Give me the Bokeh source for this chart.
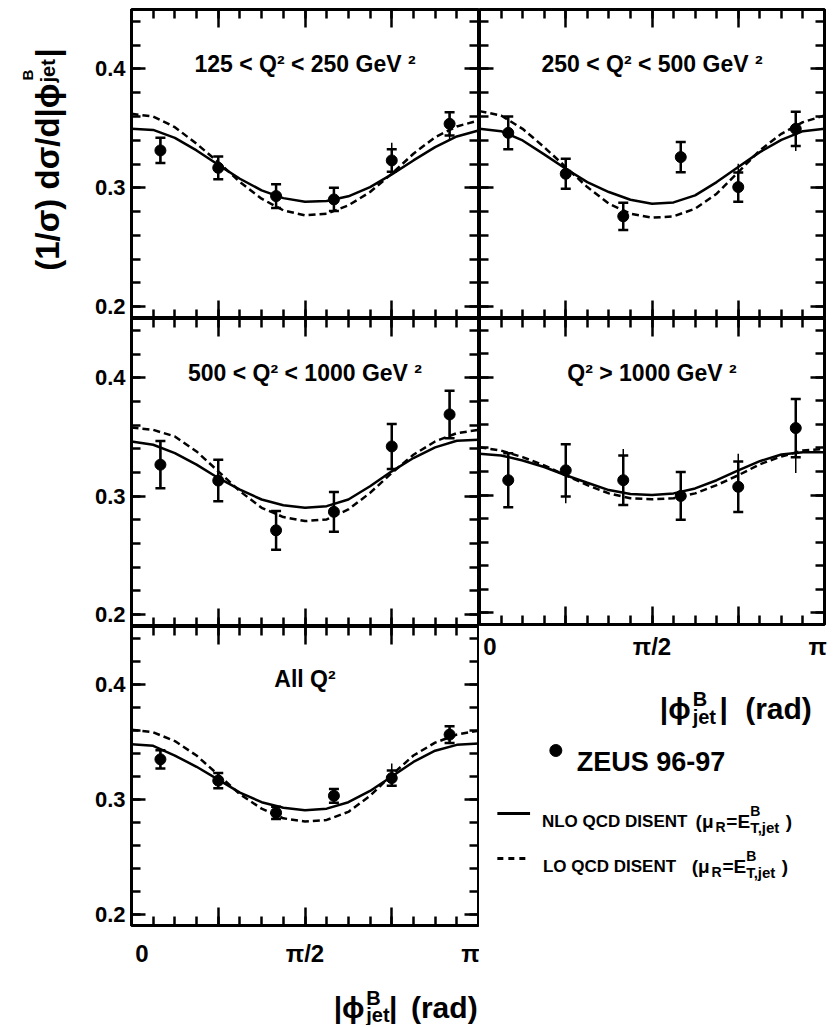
import math
from bokeh.plotting import figure
from bokeh.models import (Range1d, LinearAxis, FixedTicker, CustomJSTickFormatter,
                          Whisker, TeeHead, ColumnDataSource)
from bokeh.layouts import row, column
from bokeh.embed import file_html
from bokeh.resources import INLINE
from bokeh.core.properties import value

PI = math.pi
FONT = "Liberation Sans"

# ---------------- data ----------------
BIN_PHI = [0.2618, 0.7854, 1.3090, 1.8326, 2.3562, 2.8798]
CURVE_PHI = [0.0000, 0.1963, 0.3927, 0.5890, 0.7854, 0.9817, 1.1781, 1.3744, 1.5708,
             1.7671, 1.9635, 2.1598, 2.3562, 2.5525, 2.7489, 2.9452, 3.1416]

TITLES = ["125 < Q² < 250 GeV ²", "250 < Q² < 500 GeV ²", "500 < Q² < 1000 GeV ²",
          "Q² > 1000 GeV ²", "All Q²"]
X_TICK_LABELS = ["0", "π/2", "π"]

# 125 < Q2 < 250
ZEUS_A = [0.3314, 0.3168, 0.2930, 0.2902, 0.3230, 0.3538]
STAT_A = [0.0106, 0.0096, 0.0100, 0.0098, 0.0095, 0.0098]
TOTUP_A = [0.0106, 0.0096, 0.0100, 0.0098, 0.0148, 0.0098]
TOTDN_A = [0.0106, 0.0096, 0.0100, 0.0098, 0.0098, 0.0140]
NLO_A = [0.3496, 0.3487, 0.3420, 0.3314, 0.3193, 0.3076, 0.2978, 0.2913, 0.2882,
         0.2888, 0.2928, 0.3006, 0.3113, 0.3230, 0.3342, 0.3432, 0.3482]
LO_A = [0.3622, 0.3600, 0.3510, 0.3370, 0.3216, 0.3048, 0.2908, 0.2810, 0.2768,
        0.2782, 0.2852, 0.2964, 0.3118, 0.3286, 0.3426, 0.3516, 0.3566]

# 250 < Q2 < 500
ZEUS_B = [0.3462, 0.3118, 0.2760, 0.3258, 0.3006, 0.3496]
STAT_B = [0.0137, 0.0126, 0.0115, 0.0127, 0.0123, 0.0144]
TOTUP_B = [0.0137, 0.0126, 0.0115, 0.0127, 0.0196, 0.0144]
TOTDN_B = [0.0137, 0.0126, 0.0115, 0.0127, 0.0123, 0.0186]
NLO_B = [0.3496, 0.3476, 0.3398, 0.3281, 0.3160, 0.3048, 0.2964, 0.2899, 0.2866,
         0.2877, 0.2936, 0.3048, 0.3174, 0.3300, 0.3403, 0.3476, 0.3496]
LO_B = [0.3645, 0.3608, 0.3496, 0.3342, 0.3174, 0.3006, 0.2866, 0.2782, 0.2748,
        0.2760, 0.2824, 0.2950, 0.3132, 0.3314, 0.3454, 0.3552, 0.3608]

# 500 < Q2 < 1000
ZEUS_C = [0.3266, 0.3132, 0.2712, 0.2868, 0.3420, 0.3690]
STAT_C = [0.0199, 0.0175, 0.0164, 0.0168, 0.0190, 0.0200]
TOTUP_C = [0.0199, 0.0175, 0.0164, 0.0168, 0.0190, 0.0200]
TOTDN_C = [0.0199, 0.0175, 0.0164, 0.0168, 0.0190, 0.0200]
NLO_C = [0.3462, 0.3434, 0.3364, 0.3266, 0.3154, 0.3056, 0.2972, 0.2924, 0.2902,
         0.2916, 0.2972, 0.3084, 0.3210, 0.3322, 0.3412, 0.3468, 0.3476]
LO_C = [0.3580, 0.3560, 0.3504, 0.3378, 0.3210, 0.3042, 0.2902, 0.2824, 0.2790,
        0.2804, 0.2888, 0.3028, 0.3196, 0.3350, 0.3462, 0.3532, 0.3560]

# Q2 > 1000
ZEUS_D = [0.3126, 0.3210, 0.3126, 0.2992, 0.3070, 0.3569]
STAT_D = [0.0230, 0.0222, 0.0210, 0.0203, 0.0214, 0.0247]
TOTUP_D = [0.0230, 0.0222, 0.0266, 0.0203, 0.0280, 0.0247]
TOTDN_D = [0.0230, 0.0280, 0.0210, 0.0203, 0.0214, 0.0381]
NLO_D = [0.3350, 0.3336, 0.3294, 0.3238, 0.3168, 0.3104, 0.3042, 0.3008, 0.3000,
         0.3014, 0.3056, 0.3126, 0.3210, 0.3288, 0.3345, 0.3364, 0.3364]
LO_D = [0.3406, 0.3378, 0.3322, 0.3252, 0.3168, 0.3084, 0.3014, 0.2972, 0.2964,
        0.2972, 0.3014, 0.3084, 0.3168, 0.3261, 0.3328, 0.3378, 0.3392]

# All Q2
ZEUS_E = [0.3345, 0.3160, 0.2880, 0.3028, 0.3182, 0.3560]
STAT_E = [0.0080, 0.0066, 0.0053, 0.0060, 0.0066, 0.0073]
TOTUP_E = [0.0080, 0.0066, 0.0053, 0.0060, 0.0126, 0.0073]
TOTDN_E = [0.0080, 0.0066, 0.0053, 0.0060, 0.0066, 0.0073]
NLO_E = [0.3476, 0.3462, 0.3378, 0.3280, 0.3168, 0.3056, 0.2972, 0.2924, 0.2902,
         0.2916, 0.2972, 0.3070, 0.3196, 0.3322, 0.3420, 0.3471, 0.3482]
LO_E = [0.3602, 0.3580, 0.3504, 0.3378, 0.3210, 0.3042, 0.2916, 0.2832, 0.2804,
        0.2818, 0.2888, 0.3028, 0.3210, 0.3378, 0.3490, 0.3560, 0.3594]

# ---------------- styling helpers ----------------
XMAJ = [0, PI / 4, PI / 2, 3 * PI / 4, PI]
XMIN = [k * PI / 16 for k in range(17)]
YMAJ = [0.2, 0.3, 0.4]
YMIN = [round(0.2 + 0.02 * k, 2) for k in range(13)]
# where the x tick labels sit (slightly inside the frame, like the original)
XLABEL_POS = [0.095, PI / 2, 3.08]

XLABEL_FMT = ("const L = %s; return L[index];" % str(X_TICK_LABELS).replace("'", '"'))


def style_ticks(ax, major_in):
    ax.axis_line_color = None
    ax.major_tick_in = major_in
    ax.major_tick_out = 0
    ax.minor_tick_in = 9
    ax.minor_tick_out = 0
    ax.major_tick_line_width = 2.5
    ax.minor_tick_line_width = 2.5
    ax.major_tick_line_color = "black"
    ax.minor_tick_line_color = "black"


def hide_labels(ax):
    ax.formatter = CustomJSTickFormatter(code="return '';")
    ax.major_label_text_font_size = "0px"
    ax.major_label_standoff = 0


def label_style(ax, size, standoff):
    ax.major_label_text_font = FONT
    ax.major_label_text_font_style = "bold"
    ax.major_label_text_font_size = size
    ax.major_label_text_color = "black"
    ax.major_label_standoff = standoff


def panel(w, h, bl, br, bt, bb, title, zeus, stat, totup, totdn, nlo, lo,
          xlabels=False, ylabels=False, xstand=8):
    p = figure(width=w, height=h, x_range=Range1d(0, PI), y_range=Range1d(0.19, 0.45),
               output_backend="svg", toolbar_location=None,
               x_axis_type=None, y_axis_type=None,
               min_border_left=bl, min_border_right=br,
               min_border_top=bt, min_border_bottom=bb)
    p.outline_line_color = "black"
    p.outline_line_width = 3
    p.background_fill_color = "white"
    p.border_fill_color = "white"

    for loc in ("below", "above"):
        ax = LinearAxis(ticker=FixedTicker(ticks=XMAJ, minor_ticks=XMIN))
        style_ticks(ax, 18)
        hide_labels(ax)
        p.add_layout(ax, loc)
    if xlabels:
        lab = LinearAxis(ticker=FixedTicker(ticks=XLABEL_POS, minor_ticks=[]))
        lab.axis_line_color = None
        lab.major_tick_line_color = None
        lab.minor_tick_line_color = None
        lab.major_tick_in = 0
        lab.major_tick_out = 0
        lab.formatter = CustomJSTickFormatter(code=XLABEL_FMT)
        label_style(lab, "24px", xstand)
        p.add_layout(lab, "below")
    for loc in ("left", "right"):
        ax = LinearAxis(ticker=FixedTicker(ticks=YMAJ, minor_ticks=YMIN))
        style_ticks(ax, 14)
        if ylabels and loc == "left":
            label_style(ax, "22px", 6)
        else:
            hide_labels(ax)
        p.add_layout(ax, loc)

    p.line(CURVE_PHI, nlo, line_color="black", line_width=2.5)
    p.line(CURVE_PHI, lo, line_color="black", line_width=2.5, line_dash="7 4")

    src = ColumnDataSource(dict(
        x=BIN_PHI, y=zeus,
        lo=[a - b for a, b in zip(zeus, stat)],
        hi=[a + b for a, b in zip(zeus, stat)],
        tlo=[a - b for a, b in zip(zeus, totdn)],
        thi=[a + b for a, b in zip(zeus, totup)],
    ))
    p.segment(x0="x", y0="tlo", x1="x", y1="thi", source=src,
              line_color="black", line_width=1.5)
    p.add_layout(Whisker(source=src, base="x", lower="lo", upper="hi",
                         line_color="black", line_width=2.5,
                         lower_head=TeeHead(size=10, line_width=2.5, line_color="black"),
                         upper_head=TeeHead(size=10, line_width=2.5, line_color="black")))
    p.scatter("x", "y", source=src, marker="circle", size=11,
              fill_color="black", line_color="black")

    p.text(x=[PI / 2], y=[0.404], text=[title], text_font=value(FONT),
           text_font_size="23px", text_font_style="bold", text_align="center",
           text_baseline="middle", text_color="black")
    return p


def canvas(w, h, left, top):
    f = figure(width=w, height=h, x_range=Range1d(left, left + w),
               y_range=Range1d(-(top + h), -top), output_backend="svg",
               toolbar_location=None, x_axis_type=None, y_axis_type=None,
               min_border=0, outline_line_color=None)
    f.background_fill_color = "white"
    f.border_fill_color = "white"
    return f


def put(f, x, y, s, size, align="left", baseline="alphabetic", angle=0.0, bold=True):
    f.text(x=[x], y=[-y], text=[s], text_font=value(FONT),
           text_font_size=f"{size}px", text_font_style="bold" if bold else "normal",
           text_align=align, text_baseline=baseline, angle=angle, text_color="black")


# ---------------- panels ----------------
p1 = panel(411, 318, 63, 1, 9, 0, TITLES[0], ZEUS_A, STAT_A, TOTUP_A, TOTDN_A, NLO_A, LO_A,
           ylabels=True)
p2 = panel(348, 318, 0, 3, 9, 0, TITLES[1], ZEUS_B, STAT_B, TOTUP_B, TOTDN_B, NLO_B, LO_B)
p3 = panel(411, 308, 63, 1, 0, 0, TITLES[2], ZEUS_C, STAT_C, TOTUP_C, TOTDN_C, NLO_C, LO_C,
           ylabels=True)
p4 = panel(348, 344, 0, 3, 0, 36, TITLES[3], ZEUS_D, STAT_D, TOTUP_D, TOTDN_D, NLO_D, LO_D,
           xlabels=True, xstand=8)
p5 = panel(411, 343, 63, 1, 0, 36, TITLES[4], ZEUS_E, STAT_E, TOTUP_E, TOTDN_E, NLO_E, LO_E,
           xlabels=True, ylabels=True, xstand=14)

# ---------------- y axis title ----------------
ylab = canvas(68, 1025, 0, 0)
put(ylab, 47, 83, "(1/σ) dσ/d|ϕ", 33, align="right", angle=PI / 2)
put(ylab, 27, 80, "B", 15, angle=PI / 2)
put(ylab, 47, 82, "jet", 20, angle=PI / 2)
put(ylab, 47, 57, "|", 33, angle=PI / 2)

# ---------------- x axis title (left column) ----------------
xlabL = canvas(411, 56, 68, 969)
put(xlabL, 344, 1007, "|ϕ", 30, align="right")
put(xlabL, 346, 997, "B", 20)
put(xlabL, 346, 1014, "jet", 20)
put(xlabL, 373, 1007, "|", 30)
put(xlabL, 399, 1007, "(rad)", 30)

# ---------------- legend cell (right column bottom) ----------------
leg = canvas(348, 363, 479, 662)
put(leg, 692, 708, "|ϕ", 30, align="right")
put(leg, 694, 698, "B", 20)
put(leg, 694, 716, "jet", 20)
put(leg, 721, 708, "|", 30)
put(leg, 747, 708, "(rad)", 30)

leg.scatter(x=[556], y=[-750], marker="circle", size=12, fill_color="black", line_color="black")
put(leg, 577, 761, "ZEUS 96-97", 27)

leg.line(x=[497, 530], y=[-813, -813], line_color="black", line_width=3)
put(leg, 542, 821, "NLO QCD DISENT", 17)
put(leg, 697, 821, "(μ", 19)
put(leg, 717, 826, "R", 14)
put(leg, 728, 821, "=E", 19)
put(leg, 752, 810, "B", 14)
put(leg, 752, 827, "T,jet", 15)
put(leg, 788, 821, ")", 19)

leg.line(x=[497, 530], y=[-858, -858], line_color="black", line_width=3, line_dash="6 5")
put(leg, 543, 866, "LO QCD DISENT", 17)
put(leg, 693, 866, "(μ", 19)
put(leg, 713, 871, "R", 14)
put(leg, 724, 866, "=E", 19)
put(leg, 748, 855, "B", 14)
put(leg, 748, 872, "T,jet", 15)
put(leg, 784, 866, ")", 19)

layout = row(ylab, column(p1, p3, p5, xlabL), column(p2, p4, leg))

open("out.html", "w").write(file_html(layout, INLINE))
